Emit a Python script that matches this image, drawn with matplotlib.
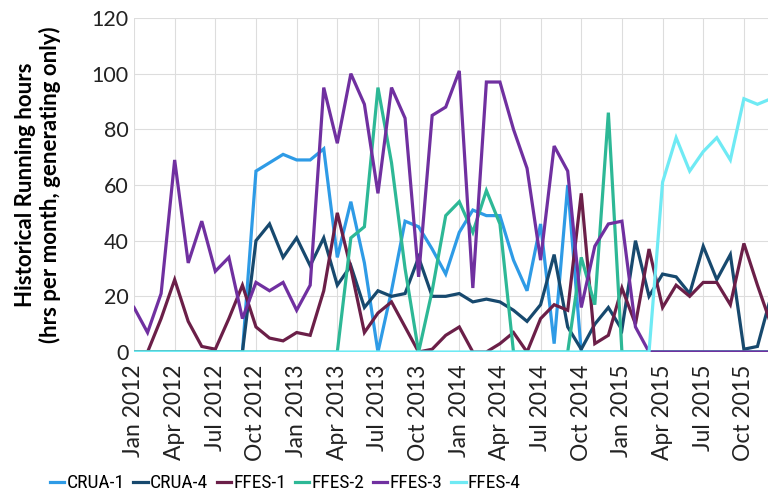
import matplotlib
matplotlib.use('Agg')
import matplotlib.pyplot as plt
from matplotlib.font_manager import FontProperties
import pandas as pd

plt.rcParams['font.family'] = ['Lato', 'DejaVu Sans']

# monthly running hours, Jan 2012 .. Dec 2015
months = pd.date_range('2012-01-01', '2015-12-01', freq='MS')

crua1 = [0, 0, 0, 0, 0, 0, 0, 0, 0, 65, 68, 71,
         69, 69, 73, 34, 54, 32, 0, 22, 47, 45, 37, 28,
         43, 51, 49, 49, 33, 22, 46, 3, 60, 0, 0, 0,
         0, 0, 0, 0, 0, 0, 0, 0, 0, 0, 0, 0]
crua4 = [0, 0, 0, 0, 0, 0, 0, 0, 0, 40, 46, 34,
         41, 31, 41, 24, 31, 16, 22, 20, 21, 34, 20, 20,
         21, 18, 19, 18, 15, 11, 17, 35, 9, 1, 10, 16,
         8, 40, 20, 28, 27, 21, 38, 26, 35, 1, 2, 20]
ffes1 = [0, 0, 12, 26, 11, 2, 1, 12, 24, 9, 5, 4,
         7, 6, 22, 50, 30, 7, 14, 18, 9, 0, 1, 6,
         9, 0, 0, 3, 7, 0, 12, 17, 15, 57, 3, 6,
         23, 10, 37, 16, 24, 20, 25, 25, 17, 39, 24, 10]
ffes2 = [0, 0, 0, 0, 0, 0, 0, 0, 0, 0, 0, 0,
         0, 0, 0, 0, 41, 45, 95, 68, 30, 0, 22, 49,
         54, 43, 58, 46, 0, 0, 0, 0, 0, 34, 17, 86,
         0, 0, 0, 0, 0, 0, 0, 0, 0, 0, 0, 0]
ffes3 = [16, 7, 21, 69, 32, 47, 29, 34, 12, 25, 22, 25,
         15, 24, 95, 75, 100, 89, 57, 95, 84, 27, 85, 88,
         101, 23, 97, 97, 80, 66, 33, 74, 65, 16, 38, 46,
         47, 9, 0, 0, 0, 0, 0, 0, 0, 0, 0, 0]
ffes4 = [0, 0, 0, 0, 0, 0, 0, 0, 0, 0, 0, 0,
         0, 0, 0, 0, 0, 0, 0, 0, 0, 0, 0, 0,
         0, 0, 0, 0, 0, 0, 0, 0, 0, 0, 0, 0,
         0, 0, 0, 61, 77, 65, 72, 77, 69, 91, 89, 91]

names = ['CRUA-1', 'CRUA-4', 'FFES-1', 'FFES-2', 'FFES-3', 'FFES-4']
series = [crua1, crua4, ffes1, ffes2, ffes3, ffes4]
colors = ['#2E9BE6', '#17496E', '#6B1F48', '#2DB896', '#7030A0', '#6FEAF4']

fig = plt.figure(figsize=(7.68, 4.99), dpi=100)
# plot area runs a little past the right edge of the image
ax = fig.add_axes([134/768, 1 - 352/499, 637/768, 334/499])

x = list(range(len(months)))
for name, vals, c in zip(names, series, colors):
    ax.plot(x, vals, color=c, lw=2.3, label=name, solid_joinstyle='miter')

ax.set_ylim(0, 120)
ax.set_xlim(0, len(months) - 1)
ax.set_yticks(range(0, 121, 20))
ticks = x[::3]
ax.set_xticks(ticks)
ax.set_xticklabels([months[i].strftime('%b %Y') for i in ticks], rotation=90)
ax.grid(True, color='#DDDDDD', lw=0.8)
ax.set_axisbelow(True)
for s in ax.spines.values():
    s.set_visible(False)
ax.tick_params(length=0, colors='#222222')
ax.tick_params(axis='y', pad=4, labelsize=15.5)
ax.tick_params(axis='x', pad=9, labelsize=16.5)

ax.set_ylabel('Historical Running hours\n(hrs per month, generating only)',
              fontsize=16, fontweight='bold', labelpad=22, linespacing=1.15)

legend_font = FontProperties(family=['Roboto Condensed', 'Noto Sans'],
                             stretch='condensed', size=14)
fig.legend(loc='lower left', bbox_to_anchor=(0.042, -0.022), ncol=6, frameon=False,
           prop=legend_font, handlelength=0.75, handletextpad=0.1, columnspacing=0.45)

fig.savefig('out.png', dpi=100)
